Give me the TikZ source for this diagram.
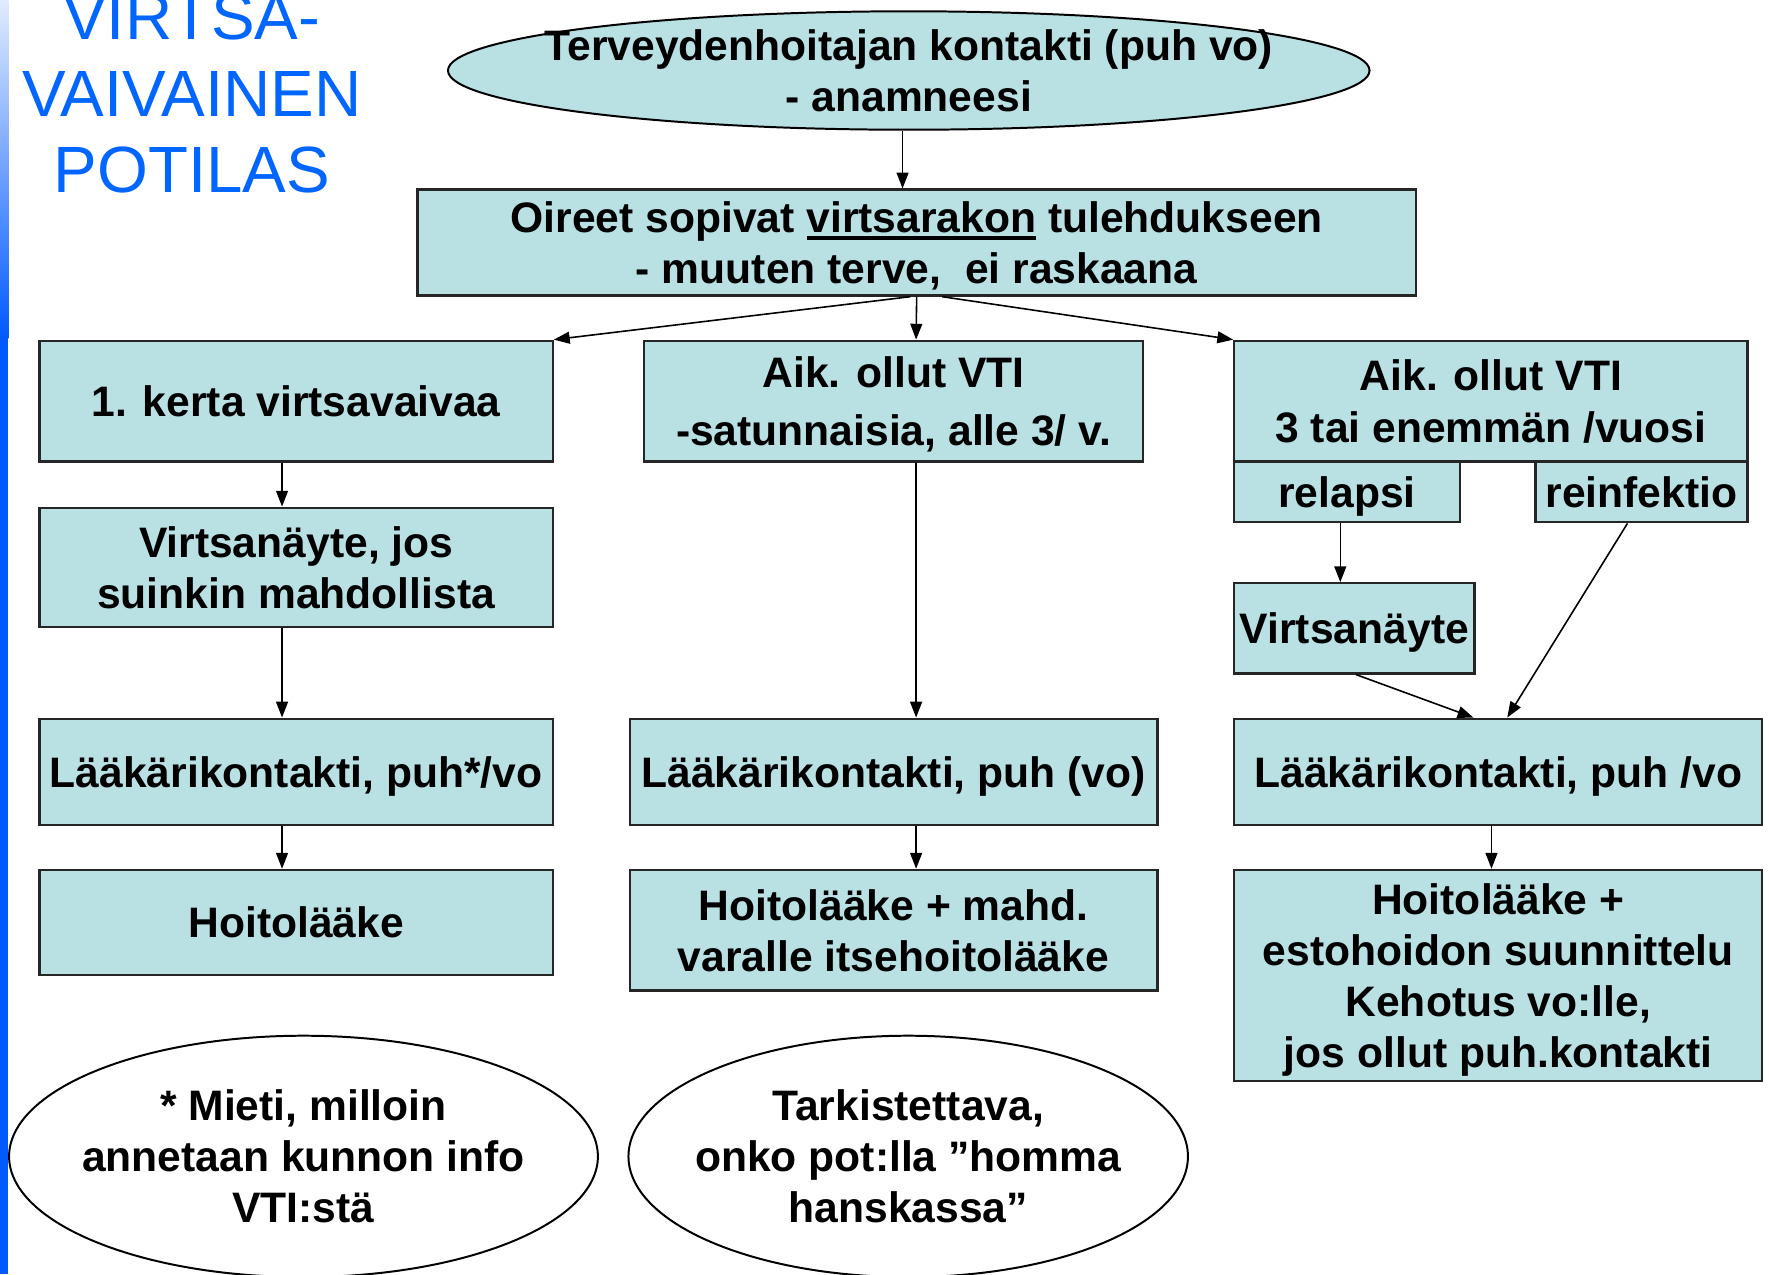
\documentclass[tikz,border=0pt]{standalone}
\usepackage{fontspec}
\setmainfont{Liberation Sans}
\usetikzlibrary{shapes.geometric,arrows.meta,calc}
\definecolor{boxc}{RGB}{185,224,227}
\definecolor{ttlblue}{RGB}{0,102,255}
\definecolor{barblue}{RGB}{0,90,255}
\definecolor{barlight}{RGB}{225,235,255}
\newcommand\thickul[1]{\leavevmode\setbox0\hbox{#1}\rlap{\rule[-3.6pt]{\wd0}{1.6pt}}\box0\relax}
\begin{document}
\begin{tikzpicture}[x=0.02cm,y=-0.02cm,
  every node/.style={font=\bfseries\fontsize{21.5}{25.8}\selectfont, inner sep=0pt, align=center},
  box/.style={draw=black!85, line width=1.1pt, fill=boxc, rectangle, text depth=0pt},
  oval/.style={draw=black, line width=1pt, ellipse, inner xsep=-150pt, inner ysep=-60pt},
  arr/.style={draw=black, line width=0.8pt, -{Triangle[length=8pt,width=6pt]}},
  ttlstyle/.style={font=\fontsize{33}{38.5}\selectfont, text=ttlblue}
]
\useasboundingbox (0,0) rectangle (1568,1129.3);
% left bar
\shade[top color=barlight, bottom color=barblue] (0,0) rectangle (7.5,300);
\fill[barblue] (0,300) rectangle (7.5,1129.3);
% title
\node[ttlstyle] (ttl) at (170,83) {VIRTSA-\\VAIVAINEN\\POTILAS};
% top
\node[oval, fill=boxc, minimum width=16.34cm, minimum height=2.1cm] (e0) at (805.5,62.5) {Terveydenhoitajan kontakti (puh vo)\\- anamneesi};
\node[box, minimum width=17.7cm, minimum height=1.88cm] (b0) at (812.5,215) {Oireet sopivat \thickul{virtsarakon} tulehdukseen\\- muuten terve,\ \ ei raskaana};
% row 1
\node[box, minimum width=9.1cm, minimum height=2.14cm] (a1) at (262.5,355.5) {1. kerta virtsavaivaa};
\node[box, minimum width=8.84cm, minimum height=2.14cm] (b1) at (792,355.5) {Aik. ollut VTI\\[3pt]-satunnaisia, alle 3/ v.};
\node[box, minimum width=9.1cm, minimum height=2.14cm] (c1) at (1321.5,355.5) {Aik. ollut VTI\\3 tai enemmän /vuosi};
\node[box, minimum width=4cm, minimum height=1.08cm] (rel) at (1194,436) {relapsi};
\node[box, minimum width=3.76cm, minimum height=1.08cm] (rein) at (1455,436) {reinfektio};
% row 2
\node[box, minimum width=9.1cm, minimum height=2.12cm] (a2) at (262.5,503) {Virtsanäyte, jos\\suinkin mahdollista};
\node[box, minimum width=4.26cm, minimum height=1.6cm] (vn) at (1200.5,557) {Virtsanäyte};
% row 3
\node[box, minimum width=9.1cm, minimum height=1.88cm] (a3) at (262.5,684) {Lääkärikontakti, puh*/vo};
\node[box, minimum width=9.36cm, minimum height=1.88cm] (b3) at (792,684) {Lääkärikontakti, puh (vo)};
\node[box, minimum width=9.36cm, minimum height=1.88cm] (c3) at (1328,684) {Lääkärikontakti, puh /vo};
% row 4
\node[box, minimum width=9.1cm, minimum height=1.86cm] (a4) at (262.5,817.5) {Hoitolääke};
\node[box, minimum width=9.36cm, minimum height=2.14cm] (b4) at (792,824.5) {Hoitolääke + mahd.\\varalle itsehoitolääke};
\node[box, minimum width=9.36cm, minimum height=3.74cm] (c4) at (1328,864.5) {Hoitolääke +\\estohoidon suunnittelu\\Kehotus vo:lle,\\jos ollut puh.kontakti};
% bottom ovals
\node[oval, fill=white, minimum width=10.44cm, minimum height=4.28cm] (n1) at (269,1025) {* Mieti, milloin\\annetaan kunnon info\\VTI:stä};
\node[oval, fill=white, minimum width=9.92cm, minimum height=4.28cm] (n2) at (805,1025) {Tarkistettava,\\onko pot:lla ”homma\\hanskassa”};
% connectors
\draw[arr] ($(e0.south)+(-5.5,0)$) -- ($(b0.north)+(-12.5,0)$);
\draw[arr] ($(b0.south)+(-5.5,0)$) -- (a1.north east);
\draw[arr] (b0.south) -- ($(b1.north)+(20,0)$);
\draw[arr] ($(b0.south)+(22.5,0)$) -- (c1.north west);
\draw[arr] ($(a1.south)+(-12.5,0)$) -- ($(a2.north)+(-12.5,0)$);
\draw[arr] ($(a2.south)+(-12.5,0)$) -- ($(a3.north)+(-12.5,0)$);
\draw[arr] ($(a3.south)+(-12.5,0)$) -- ($(a4.north)+(-12.5,0)$);
\draw[arr] ($(b1.south)+(20,0)$) -- ($(b3.north)+(20,0)$);
\draw[arr] ($(b3.south)+(20,0)$) -- ($(b4.north)+(20,0)$);
\draw[arr] ($(c3.south)+(-6,0)$) -- ($(c4.north)+(-6,0)$);
\draw[arr] ($(rel.south)+(-6,0)$) -- ($(vn.north)+(-12.5,0)$);
\draw[arr] ($(vn.south)+(1.5,0)$) -- ($(c3.north)+(-22,0)$);
\draw[arr] ($(rein.south)+(-12.5,0)$) -- ($(c3.north)+(8,0)$);
\end{tikzpicture}
\end{document}
